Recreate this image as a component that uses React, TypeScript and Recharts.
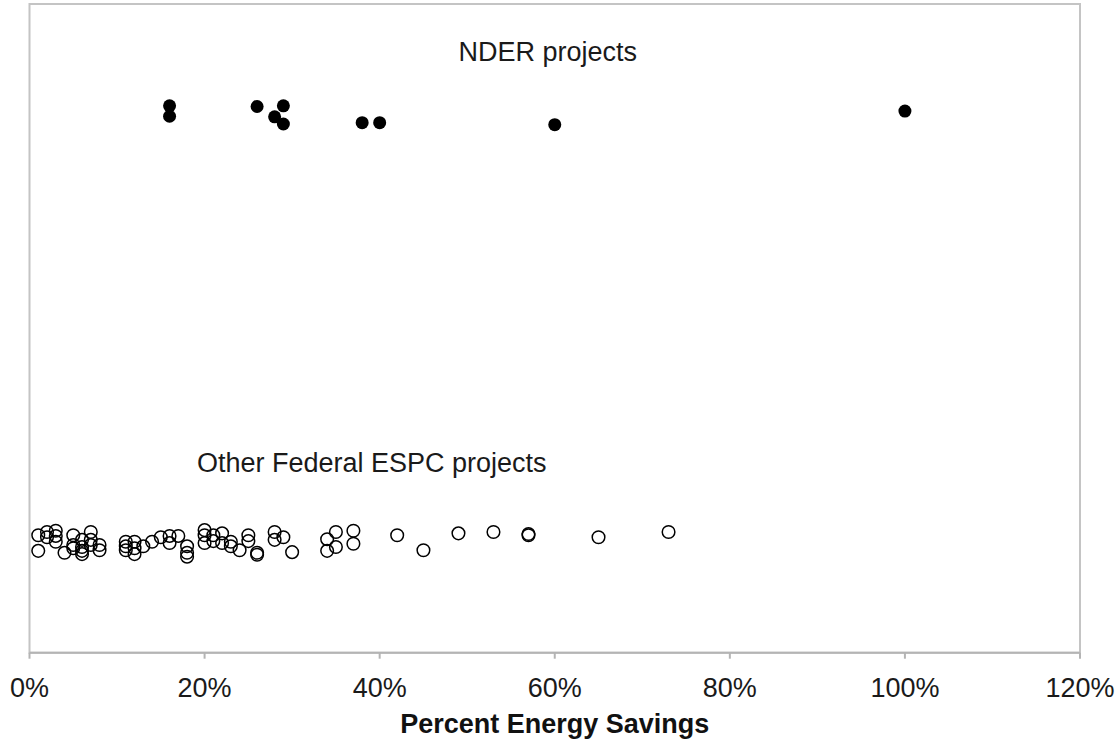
import React from 'react';
import { ScatterChart, Scatter, XAxis, YAxis, ReferenceArea, ReferenceDot } from 'recharts';

const xTicks = [0, 20, 40, 60, 80, 100, 120];

// NDER projects: percent savings and vertical jitter position
const nderX = [16, 16, 26, 29, 28, 29, 38, 40, 60, 100];
const nderY = [84.3, 82.7, 84.2, 84.3, 82.6, 81.5, 81.7, 81.7, 81.4, 83.5];

// Other Federal ESPC projects
const otherX = [
  1, 1, 2, 2, 3, 3, 3, 4, 5, 5, 5, 6, 6, 6, 6, 7, 7, 7, 8, 8,
  11, 11, 11, 12, 12, 12, 13, 14, 15, 16, 16, 17, 18, 18, 18,
  20, 20, 20, 21, 21, 22, 22, 23, 23, 24, 25, 25, 26, 26, 28, 28, 29, 30,
  34, 34, 35, 35, 37, 37, 42, 45, 49, 53, 57, 57, 65, 73,
];
const otherY = [
  18.1, 15.7, 18.6, 17.8, 18.8, 18.0, 17.1, 15.4, 18.1, 16.6, 16.1, 17.4, 16.3, 15.7, 15.2, 18.6, 17.4, 16.6, 16.6, 15.8,
  17.1, 16.4, 15.8, 17.1, 16.1, 15.2, 16.4, 17.1, 17.8, 18.0, 16.9, 18.0, 16.4, 15.4, 14.8,
  18.9, 18.1, 16.9, 18.1, 17.2, 18.4, 16.9, 17.1, 16.4, 15.8, 18.1, 17.2, 15.4, 15.1, 18.6, 17.4, 17.8, 15.5,
  17.5, 15.7, 18.6, 16.3, 18.8, 16.8, 18.1, 15.8, 18.4, 18.6, 18.3, 18.1, 17.8, 18.6,
];

const nderData = nderX.map((x, i) => ({ x, y: nderY[i] }));
const otherData = otherX.map((x, i) => ({ x, y: otherY[i] }));

const FONT = '"Liberation Sans", Arial, Helvetica, sans-serif';

const FilledDot = (p: any) => <circle cx={p.cx} cy={p.cy} r={6.5} fill="#000" />;
const OpenDot = (p: any) => (
  <circle cx={p.cx} cy={p.cy} r={6.3} fill="none" stroke="#000" strokeWidth={1.5} />
);

const textShape = (label: string) => (p: any) => (
  <text x={p.cx} y={p.cy} textAnchor="middle" fontFamily={FONT} fontSize={27} fill="#1a1a1a">
    {label}
  </text>
);

export default function App() {
  return (
    <div style={{ position: 'absolute', left: 0, top: 0, background: '#fff' }}>
      <ScatterChart
        width={1120}
        height={742}
        margin={{ top: 4, right: 40, left: 29.5, bottom: 0 }}
      >
        <XAxis
          type="number"
          dataKey="x"
          domain={[0, 120]}
          ticks={xTicks}
          tickFormatter={(v: number) => `${v}%`}
          height={89.3}
          tickSize={6}
          tickMargin={19}
          axisLine={{ stroke: '#b4b4b4', strokeWidth: 2 }}
          tickLine={{ stroke: '#b4b4b4', strokeWidth: 2 }}
          tick={{ fontSize: 27, fill: '#1a1a1a', fontFamily: FONT }}
          interval={0}
          label={{
            value: 'Percent Energy Savings',
            position: 'insideBottom',
            offset: 9,
            fontSize: 27,
            fontWeight: 'bold',
            fill: '#111',
            fontFamily: FONT,
          }}
        />
        <YAxis type="number" dataKey="y" domain={[0, 100]} hide />
        <ReferenceArea
          x1={0}
          x2={120}
          y1={0}
          y2={100}
          fill="none"
          stroke="#c4c4c4"
          strokeWidth={2}
        />
        <ReferenceDot x={59.2} y={91.2} r={0} shape={textShape('NDER projects')} />
        <ReferenceDot x={39.1} y={27.9} r={0} shape={textShape('Other Federal ESPC projects')} />
        <Scatter data={otherData} shape={OpenDot} isAnimationActive={false} />
        <Scatter data={nderData} shape={FilledDot} isAnimationActive={false} />
      </ScatterChart>
    </div>
  );
}
